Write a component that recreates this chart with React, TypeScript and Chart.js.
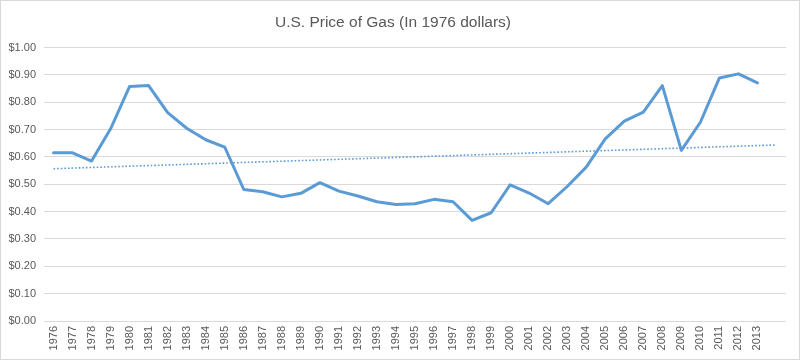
import React, { useEffect, useRef } from "react";
import { Chart, registerables } from "chart.js";

Chart.register(...registerables);

const years: string[] = [
  "1976", "1977", "1978", "1979", "1980", "1981", "1982", "1983", "1984", "1985",
  "1986", "1987", "1988", "1989", "1990", "1991", "1992", "1993", "1994", "1995",
  "1996", "1997", "1998", "1999", "2000", "2001", "2002", "2003", "2004", "2005",
  "2006", "2007", "2008", "2009", "2010", "2011", "2012", "2013", "",
];

const prices: (number | null)[] = [
  0.615, 0.615, 0.585, 0.703, 0.858, 0.861, 0.762, 0.705, 0.663, 0.636,
  0.481, 0.473, 0.454, 0.467, 0.506, 0.475, 0.457, 0.436, 0.426, 0.429,
  0.445, 0.436, 0.368, 0.396, 0.498, 0.468, 0.429, 0.492, 0.563, 0.666,
  0.731, 0.764, 0.861, 0.624, 0.727, 0.889, 0.904, 0.871, null,
];

const trendStart = 0.557;
const trendEnd = 0.644;

const yTicks: number[] = [0, 0.1, 0.2, 0.3, 0.4, 0.5, 0.6, 0.7, 0.8, 0.9, 1.0];

const FONT = "'Liberation Sans', Arial, sans-serif";
const TEXT = "#595959";
const GRID = "#d9d9d9";
const BLUE = "#5B9BD5";

const borderPlugin = {
  id: "outerBorder",
  beforeDraw(chart: any) {
    const { ctx, width, height } = chart;
    ctx.save();
    ctx.fillStyle = "#ffffff";
    ctx.fillRect(0, 0, width, height);
    ctx.strokeStyle = GRID;
    ctx.lineWidth = 1;
    ctx.strokeRect(0.5, 0.5, width - 1, height - 1);
    ctx.restore();
  },
};

export default function App() {
  const ref = useRef<HTMLCanvasElement>(null);

  useEffect(() => {
    document.body.style.margin = "0";
    const trend: (number | null)[] = years.map(() => null);
    trend[0] = trendStart;
    trend[years.length - 1] = trendEnd;

    const chart = new Chart(ref.current as HTMLCanvasElement, {
      type: "line",
      data: {
        labels: years,
        datasets: [
          {
            data: prices,
            borderColor: BLUE,
            borderWidth: 3,
            pointRadius: 0,
            tension: 0,
            borderJoinStyle: "round",
            borderCapStyle: "round",
            fill: false,
          },
          {
            data: trend,
            borderColor: BLUE,
            borderWidth: 1.6,
            borderDash: [1.6, 2],
            pointRadius: 0,
            spanGaps: true,
            fill: false,
          },
        ],
      },
      plugins: [borderPlugin],
      options: {
        animation: false,
        responsive: false,
        devicePixelRatio: 1,
        layout: { padding: { left: 0, right: 14, top: 0, bottom: 0 } },
        plugins: {
          legend: { display: false },
          tooltip: { enabled: false },
          title: {
            display: true,
            text: "U.S. Price of Gas (In 1976 dollars)",
            color: TEXT,
            font: { family: FONT, size: 15.5, weight: "normal" },
            padding: { top: 13, bottom: 16 },
          },
        },
        scales: {
          x: {
            type: "category",
            offset: true,
            grid: { display: false, drawTicks: false },
            border: { display: false },
            ticks: {
              autoSkip: false,
              minRotation: 90,
              maxRotation: 90,
              color: TEXT,
              font: { family: FONT, size: 11 },
              padding: 5,
            },
            afterFit(scale: any) {
              scale.height = 39;
            },
          },
          y: {
            min: 0,
            max: 1,
            afterBuildTicks(scale: any) {
              scale.ticks = yTicks.map((v) => ({ value: v }));
            },
            grid: { color: GRID, lineWidth: 1, drawTicks: false },
            border: { display: false },
            ticks: {
              color: TEXT,
              font: { family: FONT, size: 11 },
              padding: 8,
              callback: (v: any) => "$" + Number(v).toFixed(2),
            },
            afterFit(scale: any) {
              scale.width = 44;
            },
          },
        },
      },
    } as any);
    return () => chart.destroy();
  }, []);

  return <canvas ref={ref} width={800} height={360} style={{ display: "block" }} />;
}
